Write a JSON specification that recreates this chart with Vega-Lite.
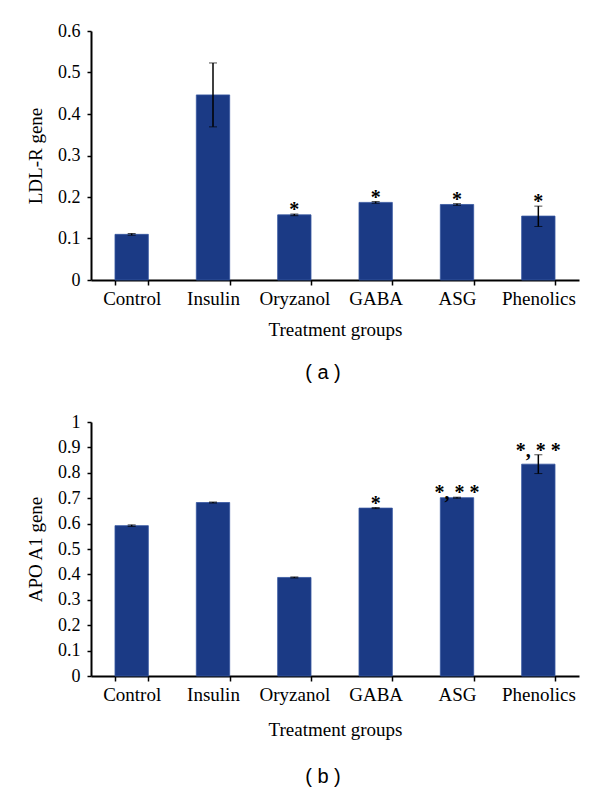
{
  "$schema": "https://vega.github.io/schema/vega-lite/v6.json",
  "background": "white",
  "padding": {"left": 26, "top": 22, "right": 10, "bottom": 0},
  "spacing": 30,
  "datasets": {
    "a": [
      {"group": "Control", "value": 0.110, "lo": 0.108, "hi": 0.112, "star": ""},
      {"group": "Insulin", "value": 0.446, "lo": 0.369, "hi": 0.523, "star": ""},
      {"group": "Oryzanol", "value": 0.157, "lo": 0.155, "hi": 0.159, "star": "*"},
      {"group": "GABA", "value": 0.187, "lo": 0.185, "hi": 0.189, "star": "*"},
      {"group": "ASG", "value": 0.182, "lo": 0.180, "hi": 0.184, "star": "*"},
      {"group": "Phenolics", "value": 0.154, "lo": 0.129, "hi": 0.178, "star": "*"}
    ],
    "b": [
      {"group": "Control", "value": 0.592, "lo": 0.589, "hi": 0.595, "star": ""},
      {"group": "Insulin", "value": 0.683, "lo": 0.681, "hi": 0.685, "star": ""},
      {"group": "Oryzanol", "value": 0.388, "lo": 0.386, "hi": 0.390, "star": ""},
      {"group": "GABA", "value": 0.661, "lo": 0.659, "hi": 0.663, "star": "*"},
      {"group": "ASG", "value": 0.702, "lo": 0.700, "hi": 0.704, "star": "*, * *"},
      {"group": "Phenolics", "value": 0.834, "lo": 0.797, "hi": 0.871, "star": "*, * *"}
    ]
  },
  "config": {
    "view": {"stroke": null},
    "font": "Liberation Serif",
    "axis": {
      "labelFont": "Liberation Serif", "titleFont": "Liberation Serif",
      "labelFontSize": 18, "titleFontSize": 19,
      "labelColor": "black", "titleColor": "black", "titleFontWeight": "normal",
      "domainColor": "black", "tickColor": "black", "grid": false,
      "domainWidth": 2, "tickWidth": 1.5, "labelOverlap": false
    },
    "title": {"font": "Liberation Sans", "fontSize": 20, "fontWeight": "normal", "color": "black"}
  },
  "vconcat": [
    {
      "width": 488, "height": 249,
      "title": {"text": "( a )", "orient": "bottom", "offset": 24, "dx": -12},
      "data": {"name": "a"},
      "encoding": {
        "x": {"field": "group", "type": "nominal", "sort": null,
          "scale": {"paddingInner": 0.59, "paddingOuter": 0.295},
          "axis": {"title": "Treatment groups", "labelAngle": 0, "labelFontSize": 19, "tickBand": "extent", "tickSize": 5, "labelPadding": 4, "titlePadding": 12}}
      },
      "layer": [
        {"mark": {"type": "bar", "color": "#1b3a85", "stroke": "#3556a0", "strokeWidth": 0.8},
         "encoding": {"y": {"field": "value", "type": "quantitative", "title": "LDL-R gene", "scale": {"domain": [0, 0.6]},
           "axis": {"values": [0, 0.1, 0.2, 0.3, 0.4, 0.5, 0.6], "format": "~g", "tickSize": 4, "labelPadding": 7, "titlePadding": 12}}}},
        {"mark": {"type": "errorbar", "ticks": {"size": 8, "color": "black"}, "rule": {"color": "black", "strokeWidth": 1.5}},
         "encoding": {"y": {"field": "lo", "type": "quantitative", "title": "LDL-R gene",
           "axis": {"values": [0, 0.1, 0.2, 0.3, 0.4, 0.5, 0.6], "format": "~g", "tickSize": 4, "labelPadding": 7, "titlePadding": 12}}, "y2": {"field": "hi"}}},
        {"mark": {"type": "text", "fontSize": 20, "fontWeight": "bold", "baseline": "alphabetic", "dy": 2, "font": "Liberation Serif", "color": "black"},
         "encoding": {"y": {"field": "hi", "type": "quantitative", "title": "LDL-R gene",
           "axis": {"values": [0, 0.1, 0.2, 0.3, 0.4, 0.5, 0.6], "format": "~g", "tickSize": 4, "labelPadding": 7, "titlePadding": 12}}, "text": {"field": "star"}}}
      ]
    },
    {
      "width": 488, "height": 254,
      "title": {"text": "( b )", "orient": "bottom", "offset": 28, "dx": -12},
      "data": {"name": "b"},
      "encoding": {
        "x": {"field": "group", "type": "nominal", "sort": null,
          "scale": {"paddingInner": 0.59, "paddingOuter": 0.295},
          "axis": {"title": "Treatment groups", "labelAngle": 0, "labelFontSize": 19, "tickBand": "extent", "tickSize": 5, "labelPadding": 4, "titlePadding": 16}}
      },
      "layer": [
        {"mark": {"type": "bar", "color": "#1b3a85", "stroke": "#3556a0", "strokeWidth": 0.8},
         "encoding": {"y": {"field": "value", "type": "quantitative", "title": "APO A1 gene", "scale": {"domain": [0, 1]},
           "axis": {"values": [0, 0.1, 0.2, 0.3, 0.4, 0.5, 0.6, 0.7, 0.8, 0.9, 1], "format": "~g", "tickSize": 4, "labelPadding": 7, "titlePadding": 12}}}},
        {"mark": {"type": "errorbar", "ticks": {"size": 8, "color": "black"}, "rule": {"color": "black", "strokeWidth": 1.5}},
         "encoding": {"y": {"field": "lo", "type": "quantitative", "title": "APO A1 gene",
           "axis": {"values": [0, 0.1, 0.2, 0.3, 0.4, 0.5, 0.6, 0.7, 0.8, 0.9, 1], "format": "~g", "tickSize": 4, "labelPadding": 7, "titlePadding": 12}}, "y2": {"field": "hi"}}},
        {"mark": {"type": "text", "fontSize": 20, "fontWeight": "bold", "baseline": "alphabetic", "dy": 2, "font": "Liberation Serif", "color": "black"},
         "encoding": {"y": {"field": "hi", "type": "quantitative", "title": "APO A1 gene",
           "axis": {"values": [0, 0.1, 0.2, 0.3, 0.4, 0.5, 0.6, 0.7, 0.8, 0.9, 1], "format": "~g", "tickSize": 4, "labelPadding": 7, "titlePadding": 12}}, "text": {"field": "star"}}}
      ]
    }
  ]
}
